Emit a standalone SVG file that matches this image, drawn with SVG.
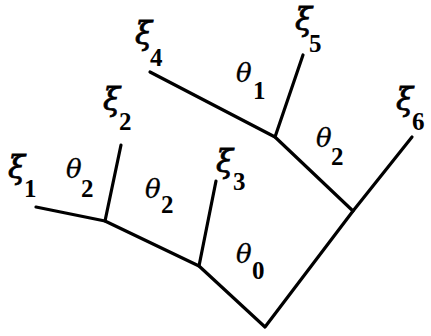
<svg xmlns="http://www.w3.org/2000/svg" width="431" height="336" viewBox="0 0 431 336">
<style>
.e{stroke:#000;stroke-width:3.2;fill:none;stroke-linecap:round;stroke-linejoin:round}
.g{font-family:"DejaVu Serif","Liberation Serif",serif;font-style:italic;font-size:31px;fill:#000;stroke:#000;stroke-width:0.8}
.t{font-family:"DejaVu Serif","Liberation Serif",serif;font-style:italic;font-size:26px;fill:#000;stroke:#000;stroke-width:0.3}
.s{font-family:"Liberation Serif","DejaVu Serif",serif;font-weight:bold;font-size:25px;fill:#000}
</style>
<rect width="431" height="336" fill="#fff"/>
<g id="connectors">
<polyline class="e" points="36,207 105,221 199,266 265,327 353,211 275,137 150,72"/>
<line class="e" x1="105" y1="221" x2="121" y2="145"/>
<line class="e" x1="199" y1="266" x2="216" y2="181"/>
<line class="e" x1="353" y1="211" x2="412" y2="137"/>
<line class="e" x1="275" y1="137" x2="303" y2="55"/>
</g>
<g id="xi1"><text class="g" x="8" y="178">ξ</text><text class="s" x="24" y="197">1</text></g>
<g id="xi2"><text class="g" x="103" y="110">ξ</text><text class="s" x="119" y="130">2</text></g>
<g id="xi3"><text class="g" x="216" y="172">ξ</text><text class="s" x="233" y="190">3</text></g>
<g id="xi4"><text class="g" x="135" y="44">ξ</text><text class="s" x="150" y="66">4</text></g>
<g id="xi5"><text class="g" x="295" y="30">ξ</text><text class="s" x="309" y="52">5</text></g>
<g id="xi6"><text class="g" x="396" y="110">ξ</text><text class="s" x="412" y="130">6</text></g>
<g id="theta-a"><text class="t" x="66" y="178">θ</text><text class="s" x="81" y="197">2</text></g>
<g id="theta-b"><text class="t" x="145" y="198">θ</text><text class="s" x="161" y="213">2</text></g>
<g id="theta-0"><text class="t" x="236" y="263">θ</text><text class="s" x="252" y="279">0</text></g>
<g id="theta-1"><text class="t" x="236" y="82">θ</text><text class="s" x="253" y="99">1</text></g>
<g id="theta-c"><text class="t" x="316" y="147">θ</text><text class="s" x="331" y="165">2</text></g>
</svg>
